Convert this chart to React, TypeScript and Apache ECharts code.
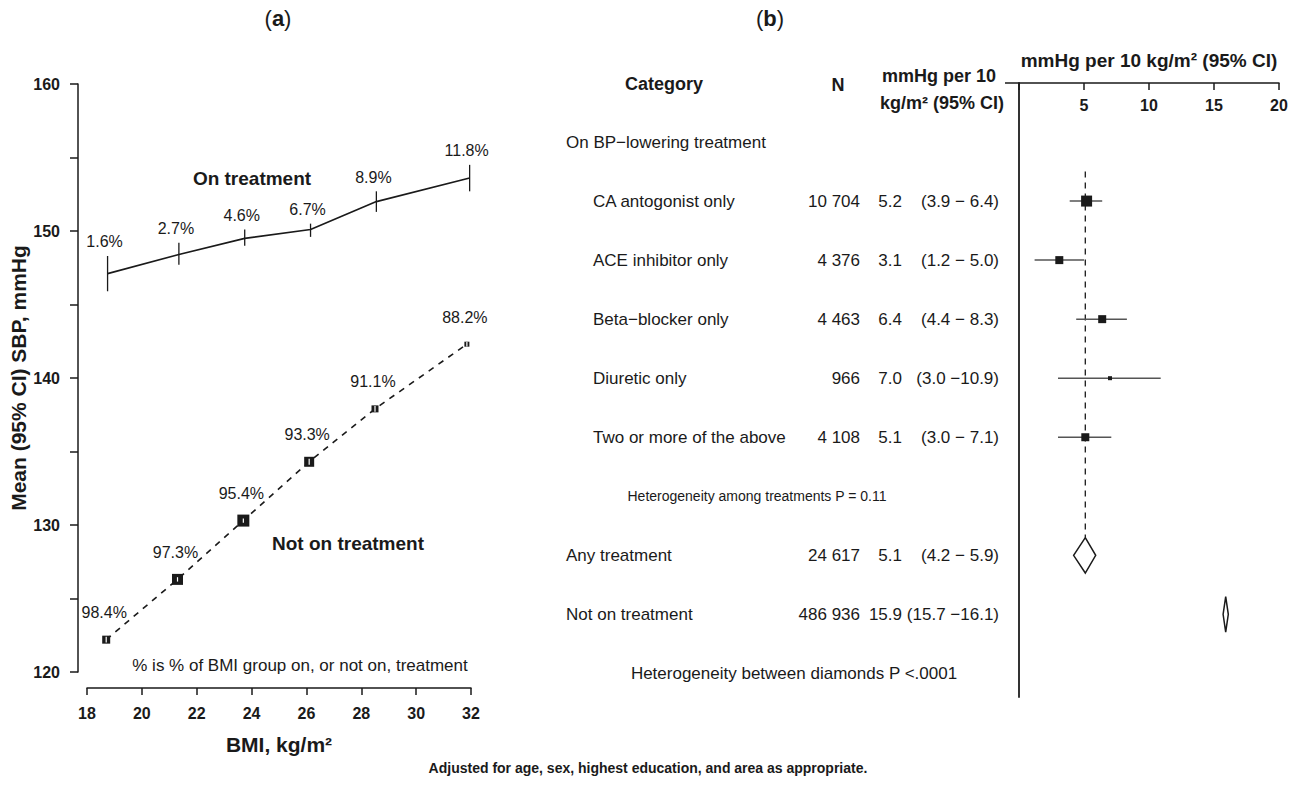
import React, { useEffect, useRef } from 'react';
import * as echarts from 'echarts';

const FONT = '"Liberation Sans", Arial, Helvetica, sans-serif';
const INK = '#1a1a1a';

// ---------- Panel (a): mean SBP by BMI group ----------
const onBmi = [18.75, 21.35, 23.75, 26.15, 28.55, 31.95];
const onMean = [147.1, 148.4, 149.5, 150.1, 152.0, 153.6];
const onLo = [145.9, 147.7, 149.0, 149.6, 151.3, 152.7];
const onHi = [148.3, 149.2, 150.1, 150.5, 152.7, 154.5];
const onPct = ['1.6%', '2.7%', '4.6%', '6.7%', '8.9%', '11.8%'];

const notBmi = [18.7, 21.3, 23.7, 26.1, 28.5, 31.85];
const notMean = [122.2, 126.3, 130.3, 134.3, 137.9, 142.3];
const notLo = [122.0, 126.15, 130.15, 134.1, 137.7, 142.15];
const notHi = [122.4, 126.45, 130.45, 134.5, 138.1, 142.45];
const notBox = [8, 11, 12, 10, 7, 5];
const notPct = ['98.4%', '97.3%', '95.4%', '93.3%', '91.1%', '88.2%'];

// ---------- Panel (b): forest plot ----------
const treatments = ['CA antogonist only', 'ACE inhibitor only', 'Beta\u2212blocker only', 'Diuretic only', 'Two or more of the above'];
const treatN = ['10 704', '4 376', '4 463', '966', '4 108'];
const treatEst = [5.2, 3.1, 6.4, 7.0, 5.1];
const treatLo = [3.9, 1.2, 4.4, 3.0, 3.0];
const treatHi = [6.4, 5.0, 8.3, 10.9, 7.1];
const treatBox = [11, 8, 8, 4, 8];
const treatRows = [2, 3, 4, 5, 6];

const summaryLabels = ['Any treatment', 'Not on treatment'];
const summaryN = ['24 617', '486 936'];
const summaryEst = [5.1, 15.9];
const summaryLo = [4.2, 15.7];
const summaryHi = [5.9, 16.1];
const summaryRows = [8, 9];

const fmtCI = (lo: number, hi: number) =>
  `(${lo.toFixed(1)} \u2212${hi < 10 ? ' ' : ''}${hi.toFixed(1)})`;

const txt = (text: string, size: number, bold = false, align = 'left') => ({
  text,
  fill: INK,
  font: `${bold ? 'bold ' : ''}${size}px ${FONT}`,
  textAlign: align,
  textVerticalAlign: 'middle',
});

export default function App() {
  const ref = useRef<HTMLDivElement>(null);

  useEffect(() => {
    document.body.style.margin = '0';
    const chart = echarts.init(ref.current!, undefined, { renderer: 'svg' });

    const axisFont = { fontFamily: FONT, fontWeight: 'bold' as const, fontSize: 16, color: INK };

    const option: any = {
      animation: false,
      backgroundColor: '#ffffff',
      grid: [
        { left: 87, top: 84, width: 384, height: 588 },
        { left: 1019, top: 83, width: 260, height: 614 },
      ],
      xAxis: [
        {
          gridIndex: 0,
          type: 'value',
          min: 18,
          max: 32,
          interval: 2,
          offset: 16,
          position: 'bottom',
          axisLine: { show: true, onZero: false, lineStyle: { color: INK, width: 1.5 } },
          axisTick: { show: true, length: 7, lineStyle: { color: INK, width: 1.5 } },
          axisLabel: { ...axisFont, margin: 17 },
          splitLine: { show: false },
          name: 'BMI, kg/m\u00b2',
          nameLocation: 'middle',
          nameGap: 46,
          nameTextStyle: { fontFamily: FONT, fontWeight: 'bold', fontSize: 21, color: INK },
        },
        {
          gridIndex: 1,
          type: 'value',
          min: 0,
          max: 20,
          interval: 5,
          position: 'top',
          axisLine: { show: true, onZero: false, lineStyle: { color: INK, width: 1.5 } },
          axisTick: { show: true, inside: true, length: 7, lineStyle: { color: INK, width: 1.5 } },
          axisLabel: { ...axisFont, inside: true, margin: 14, formatter: (v: number) => (v === 0 ? '' : String(v)) },
          splitLine: { show: false },
          name: 'mmHg per 10 kg/m\u00b2 (95% CI)',
          nameLocation: 'middle',
          nameGap: 13,
          nameTextStyle: { fontFamily: FONT, fontWeight: 'bold', fontSize: 19, color: INK },
        },
      ],
      yAxis: [
        {
          gridIndex: 0,
          type: 'value',
          min: 120,
          max: 160,
          interval: 5,
          offset: 9,
          axisLine: { show: true, onZero: false, lineStyle: { color: INK, width: 1.5 } },
          axisTick: { show: true, length: 8, lineStyle: { color: INK, width: 1.5 } },
          axisLabel: { ...axisFont, margin: 18, formatter: (v: number) => (v % 10 === 0 ? String(v) : '') },
          splitLine: { show: false },
          name: 'Mean (95% CI) SBP, mmHg',
          nameLocation: 'middle',
          nameGap: 47,
          nameTextStyle: { fontFamily: FONT, fontWeight: 'bold', fontSize: 21, color: INK },
        },
        {
          gridIndex: 1,
          type: 'value',
          min: 0,
          max: 10.4,
          inverse: true,
          axisLine: { show: true, onZero: false, lineStyle: { color: '#333', width: 2 } },
          axisTick: { show: false },
          axisLabel: { show: false },
          splitLine: { show: false },
        },
      ],
      series: [
        {
          name: 'On treatment',
          type: 'line',
          xAxisIndex: 0,
          yAxisIndex: 0,
          data: onBmi.map((x, i) => [x, onMean[i]]),
          symbol: 'none',
          lineStyle: { color: INK, width: 1.6 },
          z: 3,
        },
        {
          name: 'On treatment CI',
          type: 'custom',
          xAxisIndex: 0,
          yAxisIndex: 0,
          clip: false,
          data: onBmi.map((x, i) => [x, onLo[i], onHi[i]]),
          renderItem: (params: any, api: any) => {
            const x = api.value(0);
            const pLo = api.coord([x, api.value(1)]);
            const pHi = api.coord([x, api.value(2)]);
            return {
              type: 'group',
              children: [
                { type: 'line', shape: { x1: pLo[0], y1: pLo[1], x2: pHi[0], y2: pHi[1] }, style: { stroke: INK, lineWidth: 1.3 } },
                { type: 'text', x: pHi[0] - 3, y: pHi[1] - 14, style: txt(onPct[params.dataIndex], 16, false, 'center') },
              ],
            };
          },
          z: 4,
        },
        {
          name: 'Not on treatment',
          type: 'line',
          xAxisIndex: 0,
          yAxisIndex: 0,
          data: notBmi.map((x, i) => [x, notMean[i]]),
          symbol: 'none',
          lineStyle: { color: INK, width: 1.6, type: [6, 6] },
          z: 3,
        },
        {
          name: 'Not on treatment boxes',
          type: 'custom',
          xAxisIndex: 0,
          yAxisIndex: 0,
          clip: false,
          data: notBmi.map((x, i) => [x, notMean[i], notLo[i], notHi[i], notBox[i]]),
          renderItem: (params: any, api: any) => {
            const x = api.value(0);
            const p = api.coord([x, api.value(1)]);
            const pLo = api.coord([x, api.value(2)]);
            const pHi = api.coord([x, api.value(3)]);
            const s = api.value(4);
            return {
              type: 'group',
              children: [
                { type: 'rect', shape: { x: p[0] - s / 2, y: p[1] - s / 2, width: s, height: s }, style: { fill: INK } },
                { type: 'line', shape: { x1: pLo[0], y1: pLo[1], x2: pHi[0], y2: pHi[1] }, style: { stroke: '#ffffff', lineWidth: 1.2 } },
                { type: 'text', x: p[0] - 2, y: p[1] - 27, style: txt(notPct[params.dataIndex], 16, false, 'center') },
              ],
            };
          },
          z: 4,
        },
        // ---------- forest plot ----------
        {
          name: 'Reference',
          type: 'custom',
          xAxisIndex: 1,
          yAxisIndex: 1,
          clip: false,
          data: [[summaryEst[0], 1.5, summaryRows[0] - 0.3]],
          renderItem: (params: any, api: any) => {
            const a = api.coord([api.value(0), api.value(1)]);
            const b = api.coord([api.value(0), api.value(2)]);
            return { type: 'line', shape: { x1: a[0], y1: a[1], x2: b[0], y2: b[1] }, style: { stroke: INK, lineWidth: 1.3, lineDash: [6, 5] } };
          },
          z: 2,
        },
        {
          name: 'Treatments',
          type: 'custom',
          xAxisIndex: 1,
          yAxisIndex: 1,
          clip: false,
          data: treatEst.map((e, i) => [e, treatLo[i], treatHi[i], treatRows[i], treatBox[i]]),
          renderItem: (params: any, api: any) => {
            const row = api.value(3);
            const p = api.coord([api.value(0), row]);
            const a = api.coord([api.value(1), row]);
            const b = api.coord([api.value(2), row]);
            const s = api.value(4);
            return {
              type: 'group',
              children: [
                { type: 'line', shape: { x1: a[0], y1: a[1], x2: b[0], y2: b[1] }, style: { stroke: '#555', lineWidth: 1.5 } },
                { type: 'rect', shape: { x: p[0] - s / 2, y: p[1] - s / 2, width: s, height: s }, style: { fill: INK } },
              ],
            };
          },
          z: 4,
        },
        {
          name: 'Summaries',
          type: 'custom',
          xAxisIndex: 1,
          yAxisIndex: 1,
          clip: false,
          data: summaryEst.map((e, i) => [e, summaryLo[i], summaryHi[i], summaryRows[i]]),
          renderItem: (params: any, api: any) => {
            const row = api.value(3);
            const top = api.coord([api.value(0), row - 0.3]);
            const bot = api.coord([api.value(0), row + 0.3]);
            const a = api.coord([api.value(1), row]);
            const b = api.coord([api.value(2), row]);
            return {
              type: 'polygon',
              shape: { points: [a, top, b, bot] },
              style: { fill: '#ffffff', stroke: INK, lineWidth: 1.5 },
            };
          },
          z: 4,
        },
        {
          name: 'Table',
          type: 'custom',
          xAxisIndex: 1,
          yAxisIndex: 1,
          clip: false,
          data: [
            ...treatRows.map((r, i) => [0, r, 0, i]),
            ...summaryRows.map((r, i) => [0, r, 1, i]),
          ],
          renderItem: (params: any, api: any) => {
            const y = api.coord([0, api.value(1)])[1];
            const kind = api.value(2);
            const i = api.value(3);
            const isT = kind === 0;
            const label = isT ? treatments[i] : summaryLabels[i];
            const n = isT ? treatN[i] : summaryN[i];
            const est = isT ? treatEst[i] : summaryEst[i];
            const lo = isT ? treatLo[i] : summaryLo[i];
            const hi = isT ? treatHi[i] : summaryHi[i];
            return {
              type: 'group',
              children: [
                { type: 'text', x: isT ? 593 : 566, y, style: txt(label, 17) },
                { type: 'text', x: 860, y, style: txt(n, 17, false, 'right') },
                { type: 'text', x: 902, y, style: txt(est.toFixed(1), 17, false, 'right') },
                { type: 'text', x: 999, y, style: txt(fmtCI(lo, hi), 17, false, 'right') },
              ],
            };
          },
          z: 5,
        },
      ],
      graphic: [
        { type: 'text', x: 278, y: 18, style: { ...txt('', 22, false, 'center'), text: '{p|(}{b|a}{p|)}', rich: { p: { font: `22px ${FONT}`, fill: INK }, b: { font: `bold 22px ${FONT}`, fill: INK } } } },
        { type: 'text', x: 770, y: 18, style: { ...txt('', 22, false, 'center'), text: '{p|(}{b|b}{p|)}', rich: { p: { font: `22px ${FONT}`, fill: INK }, b: { font: `bold 22px ${FONT}`, fill: INK } } } },
        { type: 'text', x: 252, y: 178, style: txt('On treatment', 19, true, 'center') },
        { type: 'text', x: 348, y: 543, style: txt('Not on treatment', 19, true, 'center') },
        { type: 'text', x: 300, y: 665, style: txt('% is % of BMI group on, or not on, treatment', 17, false, 'center') },
        { type: 'text', x: 664, y: 84, style: txt('Category', 18, true, 'center') },
        { type: 'text', x: 838, y: 85, style: txt('N', 18, true, 'center') },
        { type: 'text', x: 939, y: 76, style: txt('mmHg per 10', 18, true, 'center') },
        { type: 'text', x: 942, y: 103, style: txt('kg/m\u00b2 (95% CI)', 18, true, 'center') },
        { type: 'text', x: 566, y: 142, style: txt('On BP\u2212lowering treatment', 17) },
        { type: 'text', x: 757, y: 496, style: txt('Heterogeneity among treatments P = 0.11', 14, false, 'center') },
        { type: 'text', x: 794, y: 673, style: txt('Heterogeneity between diamonds P <.0001', 17, false, 'center') },
        { type: 'line', shape: { x1: 1005, y1: 83, x2: 1019, y2: 83 }, style: { stroke: INK, lineWidth: 1.5 } },
        { type: 'text', x: 648, y: 768, style: txt('Adjusted for age, sex, highest education, and area as appropriate.', 14, true, 'center') },
      ],
    };

    chart.setOption(option);
    return () => chart.dispose();
  }, []);

  return <div ref={ref} style={{ position: 'absolute', left: 0, top: 0, width: 1298, height: 786 }} />;
}
